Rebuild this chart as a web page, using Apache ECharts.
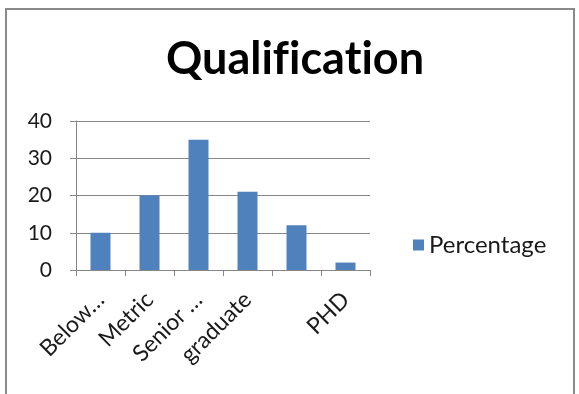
<!DOCTYPE html>
<html>
<head>
<meta charset="utf-8">
<script src="https://cdn.jsdelivr.net/npm/echarts@6/dist/echarts.min.js"></script>
<style>
  html, body { margin: 0; padding: 0; background: #fff; }
  #chart { width: 579px; height: 394px; }
</style>
</head>
<body>
<div id="chart"></div>
<script>
// Qualification breakdown (percent of respondents)
const categories = ['Below…', 'Metric', 'Senior …', 'graduate', '', 'PHD'];
const percentage = [10, 20, 35, 21, 12, 2];
const seriesName = 'Percentage';
// title drawn in separate runs so the font's fi / ti ligatures are not applied
const titleParts = ['Qualif', 'icat', 'ion'];
const yTicks = { min: 0, max: 40, interval: 10 };

const chart = echarts.init(document.getElementById('chart'), null, { renderer: 'canvas' });
const font = 'Lato, "Open Sans", "DejaVu Sans", sans-serif';

chart.setOption({
  animation: false,
  backgroundColor: '#ffffff',
  graphic: [{
    type: 'rect',
    shape: { x: 6, y: 9, width: 568, height: 420 },
    style: { fill: 'none', stroke: '#8a8a8a', lineWidth: 2 },
    silent: true
  }],
  title: {
    text: titleParts.map(p => '{t|' + p + '}').join(''),
    left: 290,
    textAlign: 'center',
    top: 32,
    textStyle: {
      rich: { t: { fontFamily: font, fontWeight: 'bold', fontSize: 45, color: '#000' } }
    }
  },
  legend: {
    data: [seriesName],
    left: 408,
    top: 228,
    itemWidth: 11,
    itemHeight: 11,
    itemGap: 13,
    icon: 'rect',
    textStyle: { fontFamily: font, fontSize: 24, color: '#1a1a1a' }
  },
  grid: { left: 76, right: 209, top: 121, bottom: 124, containLabel: false },
  xAxis: {
    type: 'category',
    data: categories,
    axisLine: { lineStyle: { color: '#868686', width: 1 } },
    axisTick: { show: true, length: 6, lineStyle: { color: '#868686' } },
    axisLabel: {
      rotate: 45,
      interval: 0,
      margin: 26,
      fontFamily: font,
      fontSize: 23,
      color: '#1a1a1a'
    }
  },
  yAxis: {
    type: 'value',
    min: yTicks.min,
    max: yTicks.max,
    interval: yTicks.interval,
    axisLine: { show: true, lineStyle: { color: '#868686' } },
    axisTick: { show: true, inside: false, length: 6, lineStyle: { color: '#868686' } },
    splitLine: { lineStyle: { color: '#868686', width: 1 } },
    axisLabel: { margin: 24, fontFamily: font, fontSize: 21, color: '#1a1a1a' }
  },
  series: [{
    name: seriesName,
    type: 'bar',
    data: percentage,
    barWidth: 20,
    itemStyle: { color: '#4F81BD' }
  }]
});
</script>
</body>
</html>
